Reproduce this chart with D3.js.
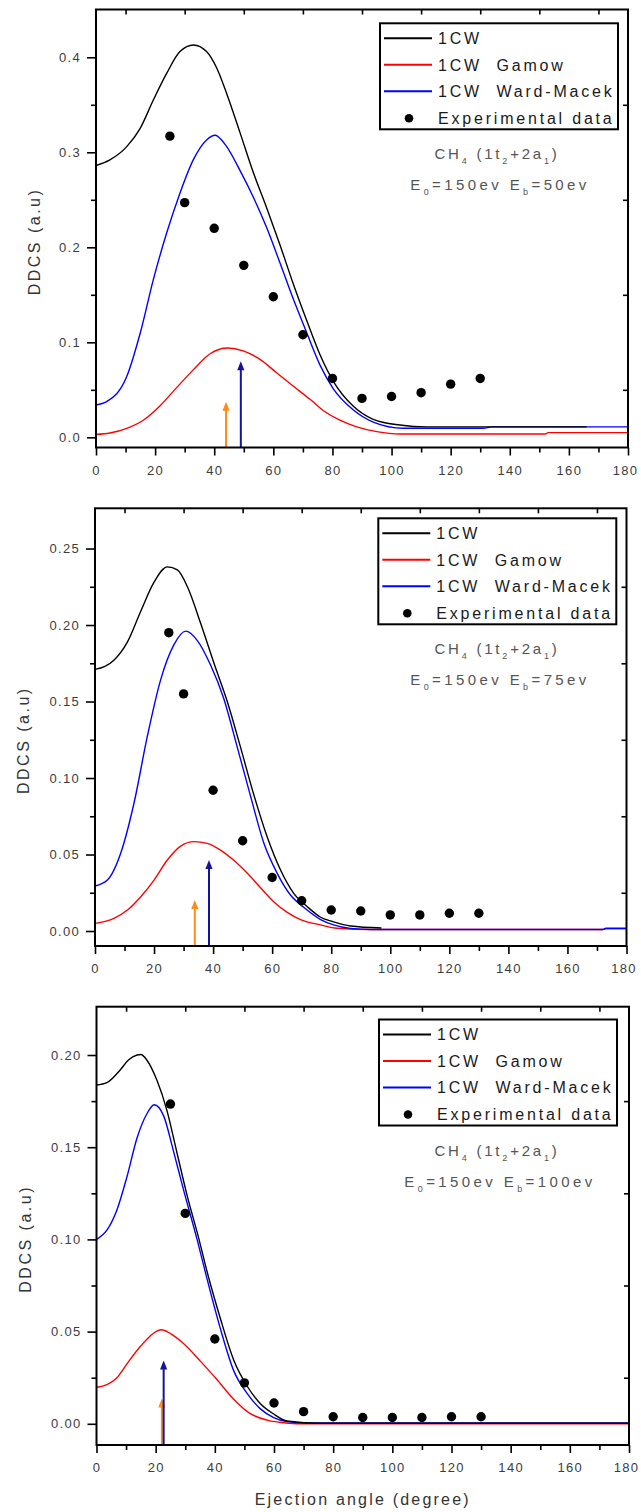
<!DOCTYPE html>
<html><head><meta charset="utf-8">
<script src="https://cdn.jsdelivr.net/npm/d3@7"></script>
<style>
body{margin:0;background:#fff;}
svg{display:block;font-family:"Liberation Sans",Arial,sans-serif;}
</style></head><body>
<svg id="chart" width="641" height="1512"></svg>
<script>
// ---------- DATA ----------
const xMajorTicks = [0,20,40,60,80,100,120,140,160,180];
const xMinorTicks = [10,30,50,70,90,110,130,150,170];
const yMajorTop = [0,0.1,0.2,0.3,0.4];
const yMinorTop = [0.05,0.15,0.25,0.35];
const yMajorMid = [0,0.05,0.10,0.15,0.20,0.25];
const yMinorMid = [0.025,0.075,0.125,0.175,0.225];
const yMajorBot = [0,0.05,0.10,0.15,0.20];
const yMinorBot = [0.025,0.075,0.125,0.175];

const seriesNames = ["1CW","1CW  Gamow","1CW  Ward-Macek","Experimental data"];
const seriesColors = ["#000000","#ff0000","#0000ff","#000000"];
const energyLabels = ["50","75","100"];

// Eb = 50 eV
const cw50 = [[0,0.286],[4.7,0.292],[10.4,0.306],[14.9,0.325],[19.4,0.355],[23.9,0.383],[28.4,0.406],[33,0.413],[37.4,0.406],[40.8,0.389],[44.2,0.362],[48.7,0.321],[53.2,0.279],[57.7,0.242],[62.2,0.203],[66.7,0.162],[71.3,0.123],[75.8,0.087],[80.3,0.059],[87,0.033],[93.8,0.019],[102.8,0.013],[112,0.011],[166,0.011]];
const gamow50 = [[0,0.003],[4.7,0.0045],[10.4,0.0095],[16,0.018],[21.6,0.033],[26.9,0.051],[32.9,0.071],[38.6,0.088],[44.5,0.094],[49.8,0.091],[55.5,0.082],[61.1,0.068],[66.7,0.054],[72.4,0.040],[77,0.028],[82.5,0.018],[88.2,0.011],[95,0.006],[102.8,0.0035],[152,0.0035],[153,0.005],[180,0.005]];
const ward50 = [[0,0.034],[3.6,0.0375],[10.4,0.064],[14.9,0.109],[19.4,0.166],[23.9,0.215],[28.4,0.257],[32.9,0.292],[37.4,0.313],[40.3,0.318],[44.2,0.306],[48.7,0.281],[53.2,0.253],[57.7,0.221],[62.2,0.184],[66.7,0.146],[71.3,0.110],[75.8,0.076],[80.3,0.051],[87,0.029],[93.8,0.016],[104,0.0095],[131,0.0095],[134,0.011],[180,0.011]];
const exp50 = [[25,0.317],[30,0.247],[40,0.220],[50,0.181],[60,0.148],[70,0.108],[80,0.062],[90,0.041],[100,0.043],[110,0.047],[120,0.056],[130,0.062]];
const arrows50 = [[44,0.0375,"orange"],[49,0.080,"navy"]];

// Eb = 75 eV
const cw75 = [[0,0.171],[6.4,0.177],[11,0.189],[15.5,0.209],[20,0.228],[24.5,0.238],[27.9,0.236],[31.3,0.225],[35.8,0.201],[40.3,0.175],[44.8,0.150],[49.3,0.120],[53.8,0.089],[58.3,0.0616],[62.8,0.040],[67.3,0.0246],[71.9,0.0159],[76.4,0.009],[80.8,0.006],[86.5,0.0033],[97,0.002]];
const gamow75 = [[0,0.005],[6.4,0.0083],[11,0.0137],[15.5,0.0224],[20,0.0333],[24.5,0.0464],[29,0.0555],[33.5,0.0584],[38,0.0573],[42.5,0.0529],[47,0.0462],[51.6,0.0377],[56,0.0284],[60.6,0.019],[65.1,0.0122],[69.6,0.0075],[76.4,0.004],[82,0.0018],[93.3,0.001],[172,0.001],[173,0.0015],[180,0.0015]];
const ward75 = [[0,0.0294],[4.2,0.0333],[8.7,0.0508],[13.2,0.0835],[17.7,0.127],[22.2,0.164],[26.7,0.187],[30.7,0.196],[34.6,0.190],[39.1,0.174],[43.6,0.152],[48.2,0.120],[52.7,0.088],[57.2,0.0573],[61.7,0.0377],[66.2,0.0235],[70.7,0.0155],[76.4,0.0075],[80.8,0.004],[86.5,0.0017],[93.3,0.001],[172,0.001],[173,0.0018],[180,0.0018]];
const exp75 = [[25,0.195],[30,0.155],[40,0.092],[50,0.059],[60,0.035],[70,0.0198],[80,0.0137],[90,0.0131],[100,0.0105],[110,0.0105],[120,0.0116],[130,0.0116]];
const arrows75 = [[33.8,0.0203,"orange"],[38.6,0.0464,"navy"]];

// Eb = 100 eV
const cw100 = [[0,0.1837],[3.5,0.185],[8,0.1919],[10.8,0.1973],[13.7,0.200],[15,0.2003],[17,0.1973],[20.4,0.1864],[23.8,0.170],[27.2,0.147],[30.6,0.124],[34.5,0.101],[37.3,0.083],[41.8,0.0575],[46.4,0.0345],[50.9,0.0205],[55.4,0.0109],[59.9,0.0053],[64.4,0.0015],[75.7,0.0003],[180,0.0003]];
const gamow100 = [[0,0.0197],[3.5,0.0212],[6.9,0.025],[10.3,0.0325],[14.8,0.0419],[20.4,0.0503],[22,0.051],[24.9,0.049],[29.4,0.0435],[35.1,0.034],[40.7,0.024],[46.3,0.0135],[52,0.0055],[57.6,0.002],[63.3,0.0006],[68.9,0.0],[180,0.0]];
const ward100 = [[0,0.100],[3.5,0.105],[6.9,0.116],[10.3,0.134],[13.7,0.155],[17,0.168],[19.5,0.173],[22.7,0.167],[26,0.148],[29.4,0.127],[34,0.100],[37.3,0.079],[41.8,0.052],[46.4,0.0287],[50.9,0.0165],[55.4,0.0081],[59.9,0.0034],[64.4,0.0012],[70,0.0005],[180,0.0005]];
const exp100 = [[25,0.1734],[30,0.1141],[40,0.046],[50,0.0222],[60,0.0113],[70,0.0066],[80,0.0038],[90,0.0034],[100,0.0034],[110,0.0034],[120,0.0038],[130,0.0038]];
const arrows100 = [[22.1,0.0137,"orange"],[22.7,0.0343,"navy"]];

// ---------- LAYOUT ----------
const arrowColors = {orange:"#ff8c1a", navy:"#14149a"};
const panels = [
  {left:96, right:628, top:9.5, bottom:447.5, yDom:[-0.0107,0.4503], yMajor:yMajorTop, yMinor:yMinorTop, fmt:d3.format(".1f"),
   lines:[gamow50,ward50,cw50], exp:exp50, arrows:arrows50, energy:energyLabels[0], legX:380, legY:23.3, ylabX:34},
  {left:95, right:626.5, top:508.3, bottom:946, yDom:[-0.0098,0.2763], yMajor:yMajorMid, yMinor:yMinorMid, fmt:d3.format(".2f"),
   lines:[gamow75,ward75,cw75], exp:exp75, arrows:arrows75, energy:energyLabels[1], legX:378.3, legY:518.3, ylabX:23},
  {left:96.5, right:629, top:1006.7, bottom:1445, yDom:[-0.0115,0.2262], yMajor:yMajorBot, yMinor:yMinorBot, fmt:d3.format(".2f"),
   lines:[gamow100,ward100,cw100], exp:exp100, arrows:arrows100, energy:energyLabels[2], legX:379, legY:1019.5, ylabX:25, xTitle:true}
];
const lineColors = [seriesColors[1], seriesColors[2], seriesColors[0]];

const svg = d3.select("#chart");

function styleAxis(g){
  g.select(".domain").remove();
  g.selectAll(".tick line").attr("stroke","#000").attr("stroke-width",1.6);
  g.selectAll(".tick text").attr("fill","#3c3c3c").style("font-size","13px")
    .style("letter-spacing","1.3px").style("font-family","'Liberation Sans',Arial,sans-serif");
}

panels.forEach((p,i) => {
  const g = svg.append("g");
  const x = d3.scaleLinear().domain([0,180]).range([p.left,p.right]);
  const y = d3.scaleLinear().domain(p.yDom).range([p.bottom,p.top]);

  const clipId = "clip"+i;
  g.append("clipPath").attr("id",clipId).append("rect")
    .attr("x",p.left).attr("y",p.top).attr("width",p.right-p.left).attr("height",p.bottom-p.top);

  // axes
  const bAxis = g.append("g").attr("transform",`translate(0,${p.bottom})`)
    .call(d3.axisBottom(x).tickValues(xMajorTicks).tickSize(8).tickPadding(10).tickFormat(d3.format("d"))).call(styleAxis);
  bAxis.selectAll(".tick text").filter(d => d === 180).attr("dx", -3);
  g.append("g").attr("transform",`translate(0,${p.bottom})`)
    .call(d3.axisBottom(x).tickValues(xMinorTicks).tickSize(5).tickFormat("")).call(styleAxis);
  g.append("g").attr("transform",`translate(0,${p.top})`)
    .call(d3.axisTop(x).tickValues(xMinorTicks).tickSize(-5).tickFormat("")).call(styleAxis);
  g.append("g").attr("transform",`translate(${p.left},0)`)
    .call(d3.axisLeft(y).tickValues(p.yMajor).tickSize(9).tickPadding(6).tickFormat(p.fmt)).call(styleAxis);
  g.append("g").attr("transform",`translate(${p.left},0)`)
    .call(d3.axisLeft(y).tickValues(p.yMinor).tickSize(5).tickFormat("")).call(styleAxis);
  g.append("g").attr("transform",`translate(${p.right},0)`)
    .call(d3.axisRight(y).tickValues(p.yMinor).tickSize(-5).tickFormat("")).call(styleAxis);

  // curves
  const line = d3.line().x(d=>x(d[0])).y(d=>y(d[1])).curve(d3.curveMonotoneX);
  const cg = g.append("g").attr("clip-path",`url(#${clipId})`);
  p.lines.forEach((ds,k) => {
    cg.append("path").datum(ds).attr("d",line).attr("fill","none")
      .attr("stroke",lineColors[k]).attr("stroke-width",1.4);
  });

  // arrows
  p.arrows.forEach(a => {
    const ax = x(a[0]), ay = y(a[1]), by = p.bottom;
    const col = arrowColors[a[2]];
    g.append("line").attr("x1",ax).attr("x2",ax).attr("y1",by).attr("y2",ay+3)
      .attr("stroke",col).attr("stroke-width",2);
    g.append("path").attr("d",`M${ax},${ay} L${ax+3.6},${ay+9} L${ax-3.6},${ay+9} Z`).attr("fill",col);
  });

  // experimental points
  g.append("g").selectAll("circle").data(p.exp).join("circle")
    .attr("cx",d=>x(d[0])).attr("cy",d=>y(d[1])).attr("r",4.7).attr("fill","#000");

  // frame
  g.append("rect").attr("x",p.left).attr("y",p.top).attr("width",p.right-p.left).attr("height",p.bottom-p.top)
    .attr("fill","none").attr("stroke","#000").attr("stroke-width",2);

  // y title
  g.append("text").attr("transform",`translate(${p.ylabX},${(p.top+p.bottom)/2+13}) rotate(-90)`)
    .attr("text-anchor","middle").attr("dy","0.35em").attr("fill","#333")
    .style("font-size","16px").style("letter-spacing","2.5px").text("DDCS (a.u)");

  // legend
  const lw = 238, lh = 106;
  const lg = g.append("g").attr("transform",`translate(${p.legX},${p.legY})`);
  lg.append("rect").attr("width",lw).attr("height",lh).attr("fill","#fff").attr("stroke","#000").attr("stroke-width",2);
  const rowY = [15,41.5,68,95];
  seriesNames.forEach((name,k) => {
    if (k < 3) {
      lg.append("line").attr("x1",4).attr("x2",52).attr("y1",rowY[k]).attr("y2",rowY[k])
        .attr("stroke",seriesColors[k]).attr("stroke-width",2);
    } else {
      lg.append("circle").attr("cx",29).attr("cy",rowY[k]).attr("r",4.3).attr("fill",seriesColors[k]);
    }
    lg.append("text").attr("x",58).attr("y",rowY[k]).attr("dy","0.36em").attr("fill","#1a1a1a")
      .style("font-size","16px").style("letter-spacing","2.8px").style("white-space","pre").text(name);
  });

  // annotation
  const cx = 497;
  const t1 = g.append("text").attr("x",cx).attr("y",p.legY+lh+30).attr("text-anchor","middle")
    .attr("fill","#555").style("font-size","15px").style("letter-spacing","2.8px");
  t1.append("tspan").text("CH");
  t1.append("tspan").attr("dy",5).style("font-size","9px").text("4");
  t1.append("tspan").attr("dy",-5).text(" (1t");
  t1.append("tspan").attr("dy",5).style("font-size","9px").text("2");
  t1.append("tspan").attr("dy",-5).text("+2a");
  t1.append("tspan").attr("dy",5).style("font-size","9px").text("1");
  t1.append("tspan").attr("dy",-5).text(")");
  const t2 = g.append("text").attr("x",cx+3).attr("y",p.legY+lh+61).attr("text-anchor","middle")
    .attr("fill","#555").style("font-size","15px").style("letter-spacing","3.4px");
  t2.append("tspan").text("E");
  t2.append("tspan").attr("dy",5).style("font-size","9px").text("0");
  t2.append("tspan").attr("dy",-5).text("=150ev E");
  t2.append("tspan").attr("dy",5).style("font-size","9px").text("b");
  t2.append("tspan").attr("dy",-5).text("=" + p.energy + "ev");

  if (p.xTitle) {
    g.append("text").attr("x",(p.left+p.right)/2).attr("y",1505).attr("text-anchor","middle")
      .attr("fill","#333").style("font-size","16px").style("letter-spacing","2.2px").text("Ejection angle (degree)");
  }
});
</script>
</body></html>
